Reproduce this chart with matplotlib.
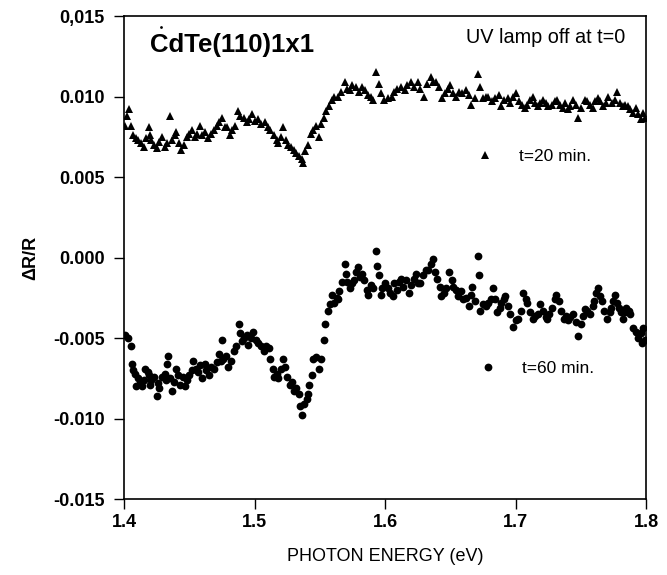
import numpy as np
import matplotlib
matplotlib.use("Agg")
import matplotlib.pyplot as plt
from matplotlib.lines import Line2D
from matplotlib.ticker import FixedLocator, FixedFormatter

plt.rcParams['font.family'] = ['Liberation Sans', 'DejaVu Sans']

# t=20 min. spectrum (photon energy in eV, dR/R in units of 1e-3)
e_20 = [1.401, 1.402, 1.404, 1.405, 1.407, 1.409, 1.411, 1.413, 1.415, 1.417,
        1.419, 1.420, 1.421, 1.423, 1.425, 1.427, 1.429, 1.431, 1.433, 1.435,
        1.437, 1.439, 1.440, 1.442, 1.444, 1.446, 1.448, 1.450, 1.452, 1.454,
        1.456, 1.458, 1.460, 1.462, 1.464, 1.467, 1.469, 1.471, 1.473, 1.475,
        1.477, 1.479, 1.481, 1.483, 1.485, 1.487, 1.489, 1.492, 1.494, 1.496,
        1.498, 1.500, 1.503, 1.505, 1.508, 1.510, 1.512, 1.515, 1.517, 1.518,
        1.520, 1.522, 1.524, 1.526, 1.528, 1.530, 1.532, 1.534, 1.536, 1.537,
        1.539, 1.541, 1.543, 1.545, 1.547, 1.549, 1.551, 1.553, 1.555, 1.557,
        1.559, 1.561, 1.564, 1.566, 1.569, 1.571, 1.573, 1.575, 1.578, 1.580,
        1.582, 1.585, 1.587, 1.589, 1.591, 1.593, 1.595, 1.597, 1.599, 1.602,
        1.605, 1.607, 1.609, 1.612, 1.615, 1.617, 1.620, 1.622, 1.625, 1.627,
        1.630, 1.632, 1.635, 1.637, 1.639, 1.641, 1.644, 1.646, 1.648, 1.650,
        1.652, 1.654, 1.657, 1.659, 1.662, 1.664, 1.666, 1.669, 1.671, 1.673,
        1.675, 1.677, 1.679, 1.682, 1.684, 1.687, 1.689, 1.691, 1.694, 1.696,
        1.698, 1.700, 1.703, 1.705, 1.707, 1.709, 1.711, 1.713, 1.715, 1.717,
        1.719, 1.721, 1.723, 1.725, 1.728, 1.730, 1.732, 1.734, 1.736, 1.738,
        1.740, 1.742, 1.744, 1.746, 1.748, 1.750, 1.753, 1.755, 1.757, 1.759,
        1.761, 1.763, 1.765, 1.767, 1.769, 1.771, 1.774, 1.776, 1.778, 1.780,
        1.782, 1.784, 1.786, 1.788, 1.790, 1.792, 1.794, 1.796, 1.798, 1.799]
dr_20 = [8.2, 8.8, 9.2, 8.2, 7.6, 7.4, 7.3, 7.1, 6.9, 7.4,
         8.1, 7.6, 7.3, 7.0, 6.8, 7.2, 7.5, 6.9, 7.1, 8.8,
         7.3, 7.6, 7.8, 7.1, 6.7, 7.0, 7.5, 7.7, 7.9, 7.5,
         7.7, 8.2, 7.6, 7.8, 7.4, 7.7, 7.9, 8.2, 8.4, 8.7,
         8.1, 8.1, 7.6, 7.9, 8.2, 9.1, 8.8, 8.7, 8.4, 8.6,
         8.9, 8.5, 8.6, 8.3, 8.4, 8.1, 7.9, 7.6, 7.3, 7.1,
         7.5, 8.1, 7.3, 7.0, 6.9, 6.7, 6.5, 6.3, 6.1, 5.9,
         6.6, 7.0, 7.7, 7.9, 8.2, 7.5, 8.3, 8.7, 9.1, 9.4,
         9.8, 10.0, 10.0, 10.3, 10.9, 10.5, 10.4, 10.7, 10.6, 10.3,
         10.6, 10.4, 10.1, 10.0, 9.8, 11.5, 10.8, 10.2, 9.8, 9.9,
         10.0, 10.3, 10.5, 10.6, 10.4, 10.7, 10.9, 10.6, 10.9, 10.5,
         10.0, 10.8, 11.2, 10.9, 10.9, 10.6, 9.9, 10.2, 10.5, 10.7,
         10.2, 10.0, 10.3, 10.2, 10.4, 10.1, 9.5, 9.9, 11.4, 10.6,
         9.9, 10.0, 10.0, 9.7, 9.9, 10.1, 9.4, 9.8, 9.9, 9.6,
         10.0, 10.2, 9.7, 9.5, 9.3, 9.5, 9.8, 10.0, 9.6, 9.4,
         9.6, 9.8, 9.6, 9.4, 9.5, 9.7, 9.8, 9.5, 9.3, 9.6,
         9.2, 9.4, 9.8, 9.5, 8.7, 9.3, 9.8, 9.7, 9.5, 9.3,
         9.7, 9.9, 9.7, 9.4, 9.6, 10.0, 9.6, 9.8, 10.3, 9.6,
         9.4, 9.5, 9.4, 9.2, 9.0, 9.3, 8.9, 8.6, 9.0, 8.7]

# t=60 min. spectrum
e_60 = [1.401, 1.403, 1.405, 1.406, 1.407, 1.408, 1.409, 1.411, 1.412, 1.414,
        1.415, 1.416, 1.418, 1.419, 1.420, 1.421, 1.423, 1.425, 1.426, 1.427,
        1.429, 1.431, 1.432, 1.433, 1.434, 1.435, 1.437, 1.438, 1.440, 1.441,
        1.443, 1.445, 1.447, 1.448, 1.450, 1.452, 1.453, 1.455, 1.457, 1.458,
        1.460, 1.462, 1.463, 1.465, 1.467, 1.469, 1.471, 1.473, 1.474, 1.475,
        1.476, 1.478, 1.480, 1.482, 1.484, 1.486, 1.488, 1.489, 1.490, 1.492,
        1.494, 1.495, 1.497, 1.499, 1.501, 1.503, 1.505, 1.507, 1.509, 1.511,
        1.512, 1.514, 1.515, 1.517, 1.518, 1.520, 1.522, 1.523, 1.525, 1.527,
        1.529, 1.530, 1.532, 1.534, 1.535, 1.536, 1.538, 1.540, 1.541, 1.542,
        1.544, 1.545, 1.547, 1.549, 1.551, 1.553, 1.554, 1.556, 1.558, 1.559,
        1.561, 1.563, 1.564, 1.565, 1.567, 1.569, 1.570, 1.571, 1.573, 1.575,
        1.576, 1.578, 1.579, 1.581, 1.582, 1.584, 1.586, 1.587, 1.589, 1.591,
        1.593, 1.594, 1.595, 1.597, 1.598, 1.600, 1.602, 1.604, 1.606, 1.607,
        1.609, 1.611, 1.612, 1.614, 1.616, 1.618, 1.620, 1.622, 1.624, 1.625,
        1.627, 1.629, 1.631, 1.633, 1.635, 1.637, 1.638, 1.640, 1.642, 1.643,
        1.645, 1.647, 1.649, 1.651, 1.652, 1.654, 1.656, 1.658, 1.660, 1.662,
        1.664, 1.666, 1.667, 1.669, 1.671, 1.672, 1.673, 1.675, 1.677, 1.679,
        1.681, 1.683, 1.684, 1.686, 1.688, 1.689, 1.691, 1.692, 1.694, 1.696,
        1.698, 1.700, 1.702, 1.704, 1.706, 1.708, 1.709, 1.711, 1.713, 1.715,
        1.717, 1.719, 1.721, 1.723, 1.724, 1.726, 1.728, 1.730, 1.731, 1.733,
        1.735, 1.737, 1.739, 1.740, 1.742, 1.744, 1.746, 1.748, 1.750, 1.752,
        1.753, 1.755, 1.757, 1.759, 1.760, 1.762, 1.763, 1.765, 1.766, 1.768,
        1.770, 1.772, 1.773, 1.775, 1.776, 1.778, 1.779, 1.781, 1.782, 1.784,
        1.785, 1.787, 1.788, 1.790, 1.792, 1.794, 1.796, 1.797, 1.798, 1.799]
dr_60 = [-4.8, -5.0, -5.5, -6.6, -7.0, -7.2, -8.0, -7.5, -7.8, -8.0,
         -7.6, -6.9, -7.1, -7.3, -7.9, -7.6, -7.4, -8.6, -7.8, -8.1,
         -7.4, -7.2, -7.6, -6.6, -6.1, -7.5, -8.3, -7.7, -6.9, -7.3,
         -7.9, -7.4, -8.0, -7.6, -7.3, -7.0, -6.4, -6.9, -7.1, -6.7,
         -7.5, -6.6, -7.0, -7.3, -6.8, -6.9, -6.5, -6.0, -6.4, -5.1,
         -6.3, -6.1, -6.8, -6.4, -5.8, -5.5, -4.1, -4.7, -5.2, -5.0,
         -4.8, -5.4, -5.0, -4.6, -5.1, -5.3, -5.5, -5.8, -5.5, -5.6,
         -6.3, -6.9, -7.4, -7.2, -7.5, -6.9, -6.3, -6.8, -7.4, -7.9,
         -7.7, -8.3, -8.1, -8.5, -9.2, -9.8, -9.1, -8.8, -8.5, -7.9,
         -7.3, -6.3, -6.2, -6.9, -6.3, -5.1, -4.1, -3.3, -2.9, -2.3,
         -2.8, -2.5, -2.6, -2.1, -1.5, -0.4, -1.0, -1.5, -1.9, -1.6,
         -1.4, -0.9, -0.6, -1.2, -1.0, -1.4, -2.0, -2.3, -1.7, -1.9,
         0.4, -0.5, -1.1, -2.3, -1.9, -1.6, -1.9, -2.2, -2.4, -1.6,
         -2.0, -1.5, -1.3, -1.8, -1.4, -2.2, -1.7, -1.3, -1.0, -1.6,
         -1.6, -1.1, -0.8, -0.8, -0.4, -0.1, -0.9, -1.3, -1.8, -2.4,
         -2.2, -1.9, -0.9, -1.4, -1.8, -2.0, -2.4, -2.1, -2.6, -2.5,
         -3.0, -2.3, -1.8, -2.7, 0.1, -1.1, -3.3, -2.9, -3.0, -2.8,
         -2.6, -1.9, -2.6, -3.4, -3.1, -2.8, -2.6, -2.4, -3.0, -3.5,
         -4.3, -3.9, -3.8, -3.3, -2.2, -2.6, -2.8, -3.4, -3.8, -3.6,
         -3.5, -2.9, -3.3, -3.7, -3.8, -3.5, -3.1, -2.6, -2.3, -2.7,
         -3.3, -3.8, -3.6, -3.9, -3.7, -3.5, -4.0, -4.9, -4.1, -3.6,
         -3.2, -3.3, -3.5, -3.0, -2.7, -2.2, -1.9, -2.4, -2.7, -3.3,
         -3.8, -3.4, -3.1, -2.7, -2.3, -2.8, -3.1, -3.4, -3.8, -3.4,
         -3.1, -3.3, -3.5, -4.4, -4.6, -5.0, -4.7, -5.3, -4.4, -5.1]

# lone speck above the top series
speck_e = [1.428]
speck_dr = [14.3]

y_ticks = [-0.015, -0.010, -0.005, 0.0, 0.005, 0.010, 0.015]
y_labels = ['-0.015', '-0.010', '-0.005', '0.000', '0.005', '0.010', '0,015']
x_ticks = [1.4, 1.5, 1.6, 1.7, 1.8]
x_labels = ['1.4', '1.5', '1.6', '1.7', '1.8']

fig = plt.figure(figsize=(6.67, 5.75), dpi=100)
ax = fig.add_axes([0.186, 0.132, 0.7826, 0.840])

ax.plot(e_20, np.array(dr_20) * 1e-3, linestyle='none', marker='^',
        markersize=6.2, color='black', markeredgewidth=0)
ax.plot(e_60, np.array(dr_60) * 1e-3, linestyle='none', marker='o',
        markersize=5.6, color='black', markeredgewidth=0)
ax.plot(speck_e, np.array(speck_dr) * 1e-3, linestyle='none', marker='o',
        markersize=2, color='black', markeredgewidth=0)

ax.set_xlim(1.4, 1.8)
ax.set_ylim(-0.015, 0.015)
ax.xaxis.set_major_locator(FixedLocator(x_ticks))
ax.xaxis.set_major_formatter(FixedFormatter(x_labels))
ax.yaxis.set_major_locator(FixedLocator(y_ticks))
ax.yaxis.set_major_formatter(FixedFormatter(y_labels))

ax.tick_params(axis='both', direction='out', length=7, width=1, color='black')
ax.tick_params(axis='y', pad=7, labelsize=13)
ax.tick_params(axis='x', pad=4, labelsize=13)
for lab in ax.get_xticklabels() + ax.get_yticklabels():
    lab.set_fontweight('bold')
for sp in ax.spines.values():
    sp.set_linewidth(1.2)

ax.set_xlabel('PHOTON ENERGY (eV)', fontsize=13, labelpad=12)
ax.set_ylabel('\u0394R/R', fontsize=13, fontweight='bold', labelpad=10)

ax.text(1.420, 0.0132, 'CdTe(110)1x1', fontsize=18.5, fontweight='bold',
        va='center', ha='left')
ax.text(1.662, 0.0137, 'UV lamp off at t=0', fontsize=14.3, va='center', ha='left')

# two separate legend entries
h20 = Line2D([], [], linestyle='none', marker='^', markersize=6.2,
             color='black', markeredgewidth=0, label='t=20 min.')
h60 = Line2D([], [], linestyle='none', marker='o', markersize=5.6,
             color='black', markeredgewidth=0, label='t=60 min.')
leg1 = ax.legend(handles=[h20], loc='center left', bbox_to_anchor=(0.674, 0.710),
                 frameon=False, fontsize=12.5, borderpad=0, borderaxespad=0,
                 handlelength=1, handletextpad=1.5)
ax.add_artist(leg1)
ax.legend(handles=[h60], loc='center left', bbox_to_anchor=(0.680, 0.271),
          frameon=False, fontsize=12.5, borderpad=0, borderaxespad=0,
          handlelength=1, handletextpad=1.5)

fig.savefig('out.png', dpi=100, facecolor='white')
